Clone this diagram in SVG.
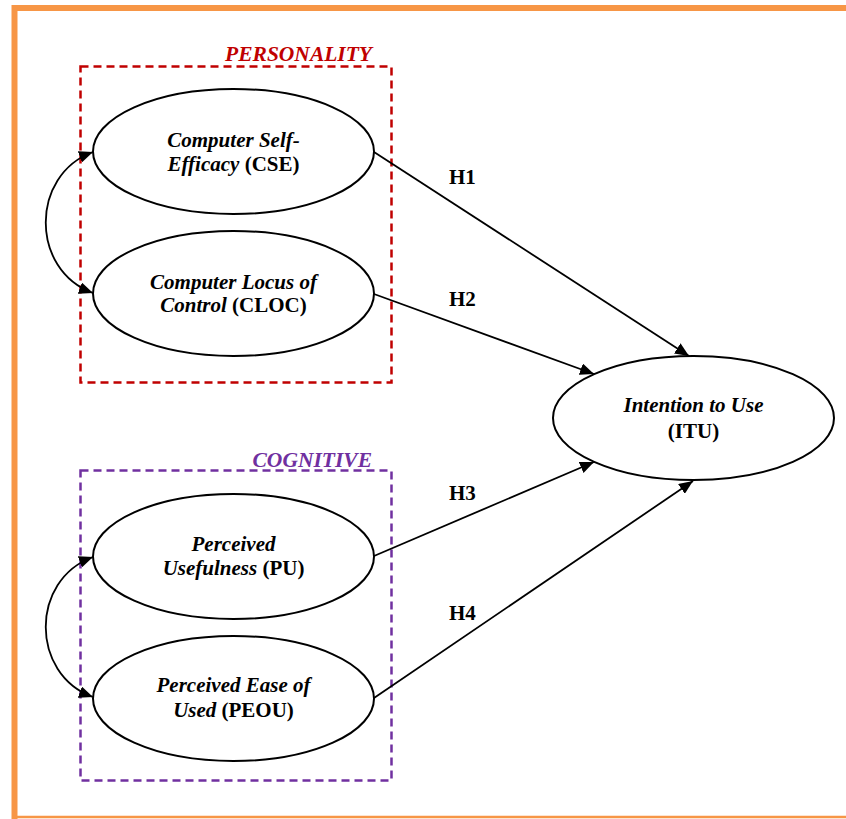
<svg xmlns="http://www.w3.org/2000/svg" width="846" height="819" viewBox="0 0 846 819">
<style>
.node ellipse{fill:#fff;stroke:#000;stroke-width:2}
.t{font-family:"Liberation Serif","Times New Roman",serif;font-size:21px;font-weight:bold;text-anchor:middle;fill:#000}
.i{font-style:italic}
.lab{font-family:"Liberation Serif","Times New Roman",serif;font-size:21px;font-weight:bold;fill:#000}
.edge{fill:none;stroke:#000;stroke-width:1.8}
.grp{fill:none;stroke-width:2.5;stroke-dasharray:8,5}
.gt{font-family:"Liberation Serif","Times New Roman",serif;font-size:21.5px;font-weight:bold;font-style:italic}
</style>
<defs>
<marker id="ah" markerUnits="userSpaceOnUse" markerWidth="14" markerHeight="12" refX="14" refY="6" orient="auto-start-reverse" viewBox="0 0 14 12">
<path d="M0,0 L14,6 L0,12 z" fill="#000"/>
</marker>
</defs>
<rect width="846" height="819" fill="#fff"/>
<g id="frame" fill="none" stroke="#F79646">
<path d="M14.5,819 V8 H846" stroke-width="6"/>
<path d="M12,817 H846" stroke-width="2.5"/>
</g>
<g id="personality">
<rect class="grp" x="80.5" y="66.5" width="311" height="316" stroke="#C00000"/>
<text class="gt" x="372" y="61" text-anchor="end" fill="#C00000">PERSONALITY</text>
</g>
<g id="cognitive">
<rect class="grp" x="80.5" y="470.5" width="311" height="310" stroke="#7030A0"/>
<text class="gt" x="372" y="467" text-anchor="end" fill="#7030A0">COGNITIVE</text>
</g>
<g id="connectors">
<path class="edge" d="M93,152 C30,175 30,270 93,293" marker-start="url(#ah)" marker-end="url(#ah)"/>
<path class="edge" d="M93,557 C30,580 30,674 93,697" marker-start="url(#ah)" marker-end="url(#ah)"/>
<path class="edge" d="M374,152 L689,356" marker-end="url(#ah)"/>
<path class="edge" d="M374,294 L594,374" marker-end="url(#ah)"/>
<path class="edge" d="M374,556 L594,462" marker-end="url(#ah)"/>
<path class="edge" d="M374,698 L693,481" marker-end="url(#ah)"/>
<text class="lab" x="449" y="184">H1</text>
<text class="lab" x="449" y="306">H2</text>
<text class="lab" x="449" y="500">H3</text>
<text class="lab" x="449" y="620">H4</text>
</g>
<g id="cse" class="node">
<ellipse cx="233.5" cy="151.5" rx="140.5" ry="62.5"/>
<text class="t" x="233.5" y="147"><tspan class="i">Computer Self-</tspan></text>
<text class="t" x="233.5" y="171"><tspan class="i">Efficacy</tspan> (CSE)</text>
</g>
<g id="cloc" class="node">
<ellipse cx="233.5" cy="293.5" rx="140.5" ry="62.5"/>
<text class="t" x="233.5" y="289"><tspan class="i">Computer Locus of</tspan></text>
<text class="t" x="233.5" y="312"><tspan class="i">Control</tspan> (CLOC)</text>
</g>
<g id="pu" class="node">
<ellipse cx="233.5" cy="556.5" rx="140.5" ry="62.5"/>
<text class="t" x="233.5" y="551"><tspan class="i">Perceived</tspan></text>
<text class="t" x="233.5" y="575"><tspan class="i">Usefulness</tspan> (PU)</text>
</g>
<g id="peou" class="node">
<ellipse cx="233.5" cy="698.5" rx="140.5" ry="62.5"/>
<text class="t" x="233.5" y="692"><tspan class="i">Perceived Ease of</tspan></text>
<text class="t" x="233.5" y="717"><tspan class="i">Used</tspan> (PEOU)</text>
</g>
<g id="itu" class="node">
<ellipse cx="693.5" cy="418" rx="140.5" ry="62"/>
<text class="t" x="693.5" y="412"><tspan class="i">Intention to Use</tspan></text>
<text class="t" x="693.5" y="438">(ITU)</text>
</g>
</svg>
